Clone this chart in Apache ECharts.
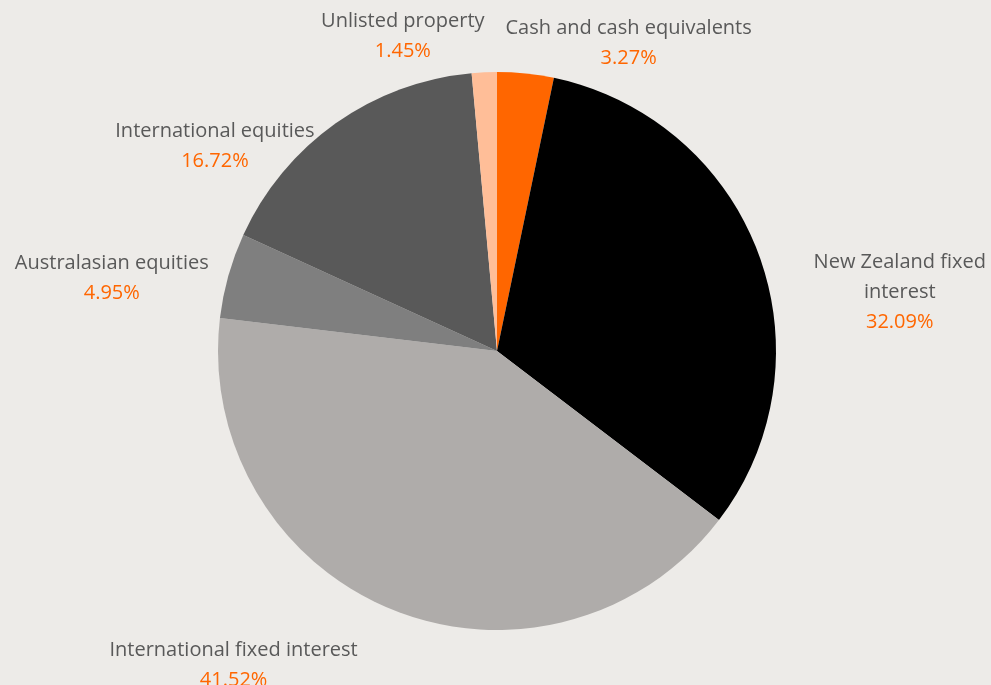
<!DOCTYPE html>
<html><head><meta charset="utf-8">
<script src="https://cdn.jsdelivr.net/npm/echarts@6/dist/echarts.min.js"></script>
<style>html,body{margin:0;padding:0;background:#EDEBE8;}#c{width:991px;height:685px;}</style>
</head><body><div id="c"></div>
<script>
const categories = ['Cash and cash equivalents','New Zealand fixed interest','International fixed interest','Australasian equities','International equities','Unlisted property'];
const labelNames = ['Cash and cash equivalents','New Zealand fixed\ninterest','International fixed interest','Australasian equities','International equities','Unlisted property'];
const values = [3.27, 32.09, 41.52, 4.95, 16.72, 1.45];
const colors = ['#FF6600','#000000','#AFACAA','#7F7F7F','#595959','#FFBE98'];
// label nudges (best-fit placement like the original)
const labelDX = [97, 127, -150, -102, -110, -76];
const labelDY = [-20, 42, 46, 5, 31, -26];

const chart = echarts.init(document.getElementById('c'));
chart.setOption({
  backgroundColor: '#EDEBE8',
  animation: false,
  series: [{
    type: 'pie',
    center: [497, 351],
    radius: 279,
    startAngle: 90,
    clockwise: true,
    avoidLabelOverlap: false,
    data: categories.map((n, i) => ({name: n, value: values[i], itemStyle: {color: colors[i]}})),
    label: {
      show: true,
      position: 'outside',
      formatter: p => '{n|' + labelNames[p.dataIndex].split('\n').join('}\n{n|') + '}\n{v|' + p.value.toFixed(2) + '%}',
      rich: {
        n: {color: '#595959', fontSize: 20, fontFamily: 'Open Sans', lineHeight: 30, align: 'center'},
        v: {color: '#FF6600', fontSize: 20, fontFamily: 'Open Sans', lineHeight: 30, align: 'center'}
      }
    },
    labelLine: {show: false, length: 10, length2: 0},
    labelLayout: p => ({align: 'center', verticalAlign: 'middle', dx: labelDX[p.dataIndex], dy: labelDY[p.dataIndex]})
  }]
});
</script></body></html>
